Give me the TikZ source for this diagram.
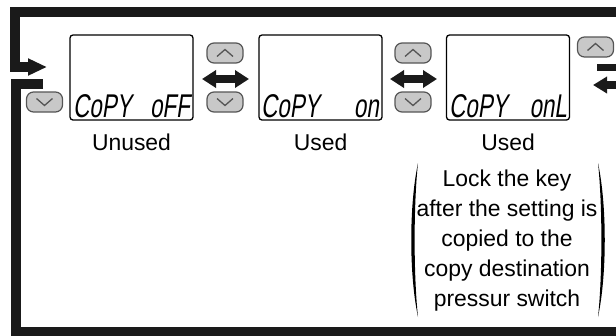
\documentclass[tikz,border=0pt]{standalone}
\usepackage{fontspec}
\setmainfont{Liberation Sans}
\newfontfamily\lcdfont[FakeSlant=0.15,FakeStretch=0.68]{Liberation Sans}
\usetikzlibrary{arrows.meta,calc}
\definecolor{ink}{HTML}{1A1A1A}
\definecolor{btnfill}{HTML}{C8C8C8}
\definecolor{btnline}{HTML}{555555}
\begin{document}
\begin{tikzpicture}[x=1bp,y=-1bp,
  lcd/.style={draw=black,line width=1.3bp,rounded corners=3bp,minimum width=123bp,minimum height=85bp,inner sep=0pt},
  btn/.style={draw=btnline,fill=btnfill,line width=1.2bp,rounded corners=7bp,minimum width=36bp,minimum height=20bp,inner sep=0pt},
  chev/.style={draw=btnline,line width=1.3bp},
  frame/.style={draw=ink,line width=9.5bp},
  dbl/.style={draw=ink,line width=8bp,{Triangle[length=14bp,width=17bp]}-{Triangle[length=14bp,width=17bp]}},
  seg/.style={font=\lcdfont\fontsize{33}{33}\selectfont,inner sep=0pt},
  lbl/.style={font=\fontsize{23}{30}\selectfont,inner sep=0pt}]
\useasboundingbox (0,0) rectangle (616,335);
\clip (0,0) rectangle (616,335);

% LCD boxes
\node[lcd] (b1) at (131.5,77.5) {};
\node[lcd] (b2) at (320.5,77.5) {};
\node[lcd] (b3) at (508,77.5) {};

% LCD texts
\node[seg,anchor=base west] (t1a) at (73,117) {CoPY};
\node[seg,anchor=base east] (t1b) at (190,117) {oFF};
\node[seg,anchor=base west] (t2a) at (261,117) {CoPY};
\node[seg,anchor=base east] (t2b) at (379,117) {on};
\node[seg,anchor=base west] (t3a) at (449,117) {CoPY};
\node[seg,anchor=base east] (t3b) at (567,117) {onL};

% buttons
\node[btn] (d0) at (44.5,102) {};
\node[btn] (u1) at (225,53) {};
\node[btn] (d1) at (225,102) {};
\node[btn] (u2) at (413,53) {};
\node[btn] (d2) at (413,102) {};
\node[btn] (u3) at (595.5,47) {};
\foreach \n in {u1,u2,u3}
  \draw[chev] ($(\n.center)+(-8,3.5)$) -- ($(\n.center)+(0,-3.5)$) -- ($(\n.center)+(8,3.5)$);
\foreach \n in {d0,d1,d2}
  \draw[chev] ($(\n.center)+(-8,-3.5)$) -- ($(\n.center)+(0,3.5)$) -- ($(\n.center)+(8,-3.5)$);

% double arrows
\coordinate (a1l) at (202,79);
\coordinate (a1r) at (249,79);
\coordinate (a2l) at (390,79);
\coordinate (a2r) at (437,79);
\draw[dbl] (a1l) -- (a1r);
\draw[dbl] (a2l) -- (a2r);

% outer frame
\coordinate (fTR) at (622,12);
\coordinate (fTL) at (15,12);
\coordinate (fIn) at (47,67);
\draw[frame,-{Triangle[length=19bp,width=16bp]}] (fTR) -- (fTL) |- (fIn);
\coordinate (fOut) at (43,84);
\coordinate (fBL) at (16,332);
\coordinate (fBR) at (622,332);
\draw[frame] (fOut) -| (fBL) -- (fBR);

% right edge continuation
\coordinate (rb1) at (597,67.5);
\coordinate (rb2) at (622,67.5);
\draw[ink,line width=7bp] (rb1) -- (rb2);
\coordinate (ra1) at (622,85);
\coordinate (ra2) at (593,85);
\draw[ink,line width=8bp,-{Triangle[length=14bp,width=16bp]}] (ra1) -- (ra2);

% labels
\node[lbl,anchor=base] (l1) at (131.5,150) {Unused};
\node[lbl,anchor=base] (l2) at (320.5,150) {Used};
\node[lbl,anchor=base] (l3) at (508,150) {Used};

% note with parentheses
\foreach \t [count=\i] in {Lock the key, after the setting is, copied to the, copy destination, pressur switch}
  \node[lbl,anchor=base] (n\i) at (507,156+30*\i) {\t};
\fill[black] (418,163) .. controls (409,205) and (409,275) .. (418,317)
  .. controls (413.5,275) and (413.5,205) .. (418,163) -- cycle;
\fill[black] (598,163) .. controls (607,205) and (607,275) .. (598,317)
  .. controls (602.5,275) and (602.5,205) .. (598,163) -- cycle;
\end{tikzpicture}
\end{document}
